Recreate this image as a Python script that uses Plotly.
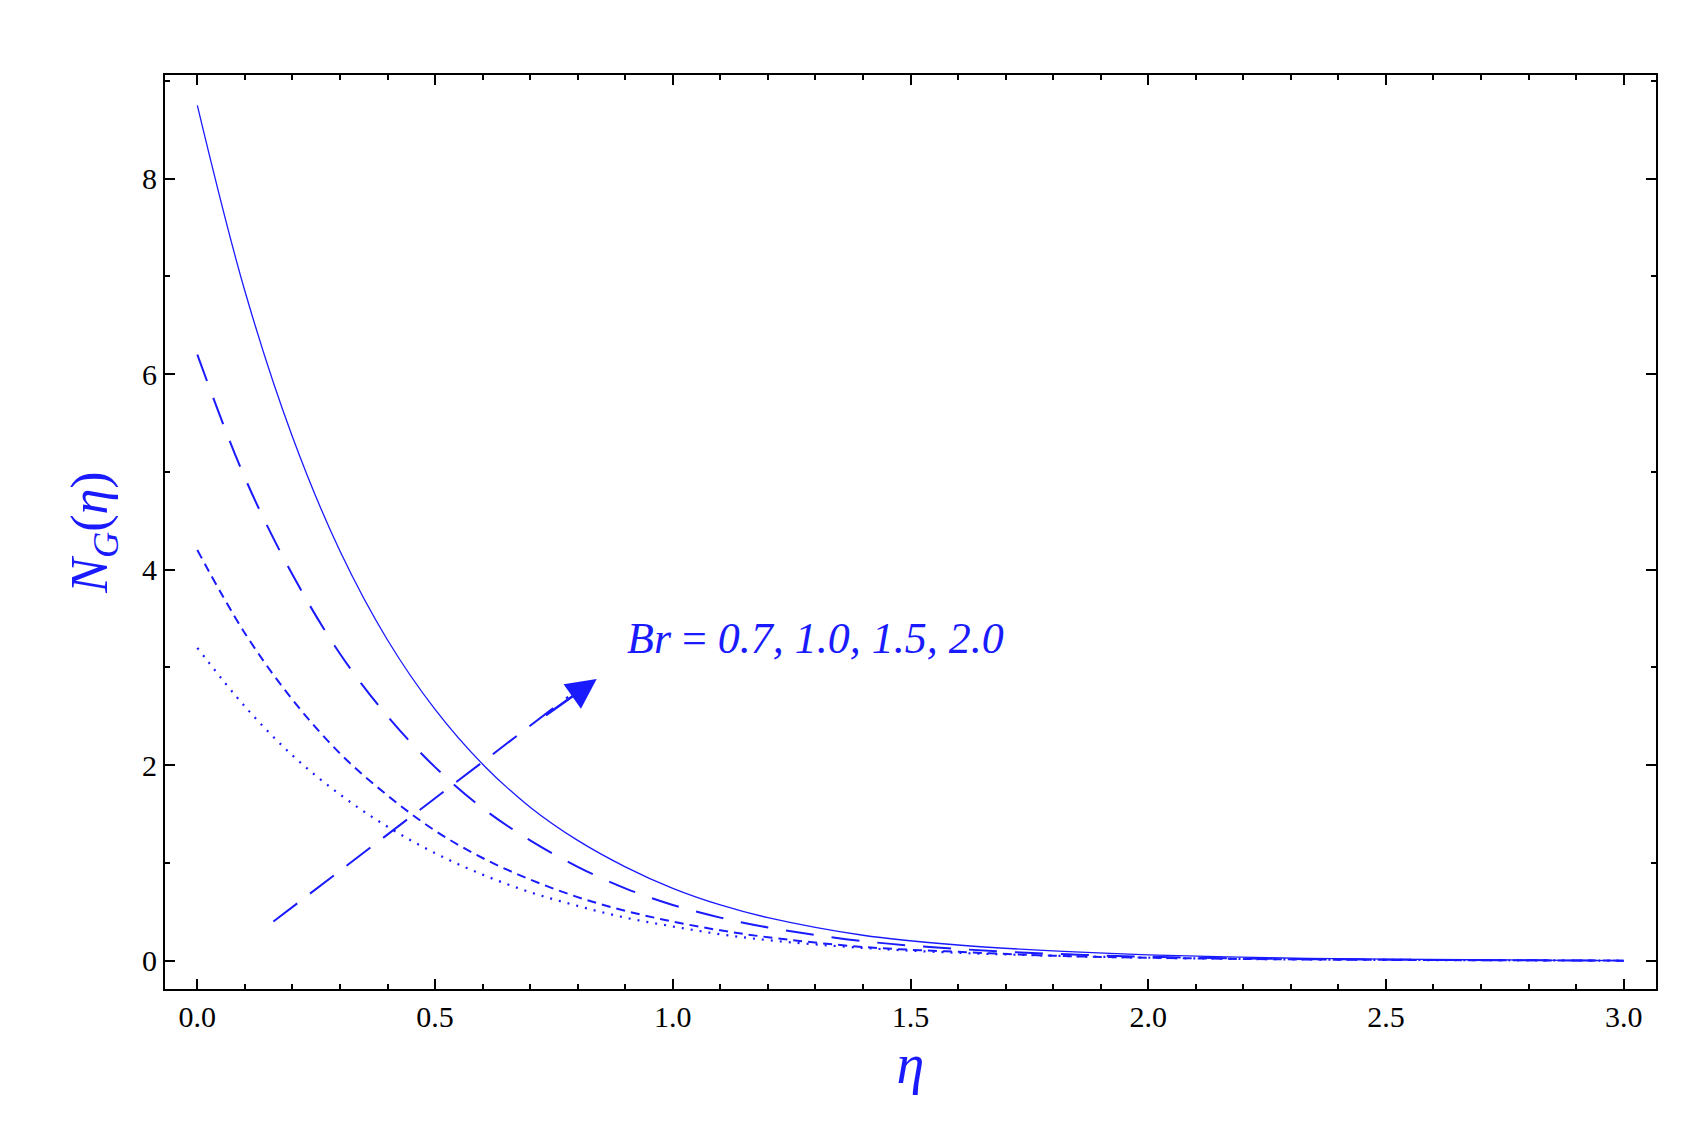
import plotly.graph_objects as go

eta = [0.0, 0.1, 0.2, 0.3, 0.4, 0.5, 0.6, 0.7, 0.8, 0.9, 1.0, 1.1, 1.2, 1.4, 1.6, 1.8, 2.0, 2.25, 2.5, 2.75, 3.0]
ng_07 = [8.75, 6.85, 5.36, 4.19, 3.28, 2.57, 2.01, 1.57, 1.23, 0.96, 0.74, 0.57, 0.44, 0.26, 0.16, 0.1, 0.06, 0.03, 0.015, 0.007, 0.0]
ng_10 = [6.2, 4.94, 3.95, 3.14, 2.5, 1.98, 1.56, 1.23, 0.96, 0.74, 0.57, 0.44, 0.34, 0.2, 0.12, 0.07, 0.04, 0.02, 0.01, 0.005, 0.0]
ng_15 = [4.2, 3.35, 2.67, 2.12, 1.69, 1.33, 1.05, 0.83, 0.65, 0.51, 0.4, 0.31, 0.24, 0.14, 0.09, 0.05, 0.03, 0.015, 0.008, 0.004, 0.0]
ng_20 = [3.2, 2.6, 2.1, 1.7, 1.37, 1.1, 0.88, 0.7, 0.56, 0.44, 0.35, 0.27, 0.21, 0.13, 0.08, 0.05, 0.03, 0.015, 0.008, 0.004, 0.0]

arrow_x = [0.16, 0.78]
arrow_y = [0.4, 2.7]
arrow_head = (0.84, 2.88)

blue = "#1a1aff"

fig = go.Figure()
for ys, dash, w in [(ng_07, "solid", 1.3), (ng_10, "28px,18px", 2),
                    (ng_15, "9px,6px", 2), (ng_20, "2px,7px", 2.2)]:
    fig.add_trace(go.Scatter(x=eta, y=ys, mode="lines", line=dict(color=blue, width=w, dash=dash, shape="spline")))

fig.add_trace(go.Scatter(x=arrow_x, y=arrow_y, mode="lines",
                         line=dict(color=blue, width=2, dash="30px,16px")))
fig.add_annotation(x=arrow_head[0], y=arrow_head[1], ax=arrow_x[1] - 0.05, ay=arrow_y[1] - 0.2,
                   xref="x", yref="y", axref="x", ayref="y", text="", showarrow=True,
                   arrowhead=2, arrowsize=2.4, arrowwidth=2.5, arrowcolor=blue)
fig.add_annotation(x=0.9, y=3.3, xref="x", yref="y", text="<i>Br</i> = <i>0.7, 1.0, 1.5, 2.0</i>",
                   showarrow=False, xanchor="left",
                   font=dict(family="Liberation Serif", size=44, color=blue))

axis = dict(showgrid=False, zeroline=False, showline=True, linecolor="black", linewidth=2,
            mirror="ticks", ticks="inside", ticklen=10, tickwidth=2, tickcolor="black",
            tickfont=dict(family="Liberation Serif", size=30, color="black"))
fig.update_xaxes(**axis, range=[-0.068, 3.068], tickvals=[0, 0.5, 1, 1.5, 2, 2.5, 3],
                 ticktext=["0.0", "0.5", "1.0", "1.5", "2.0", "2.5", "3.0"],
                 minor=dict(ticks="inside", ticklen=5, tickcolor="black", dtick=0.1),
                 title=dict(text="<i>η</i>", font=dict(family="Liberation Serif", size=56, color=blue), standoff=8))
fig.update_yaxes(**axis, range=[-0.29, 9.06], tickvals=[0, 2, 4, 6, 8],
                 minor=dict(ticks="inside", ticklen=5, tickcolor="black", dtick=1),
                 title=dict(text="<i>N<sub>G</sub></i>(<i>η</i>)", font=dict(family="Liberation Serif", size=52, color=blue), standoff=18))
fig.update_layout(width=1684, height=1131, showlegend=False, plot_bgcolor="white", paper_bgcolor="white",
                  margin=dict(l=157, r=36, t=67, b=150))
fig.write_html("out.html")
